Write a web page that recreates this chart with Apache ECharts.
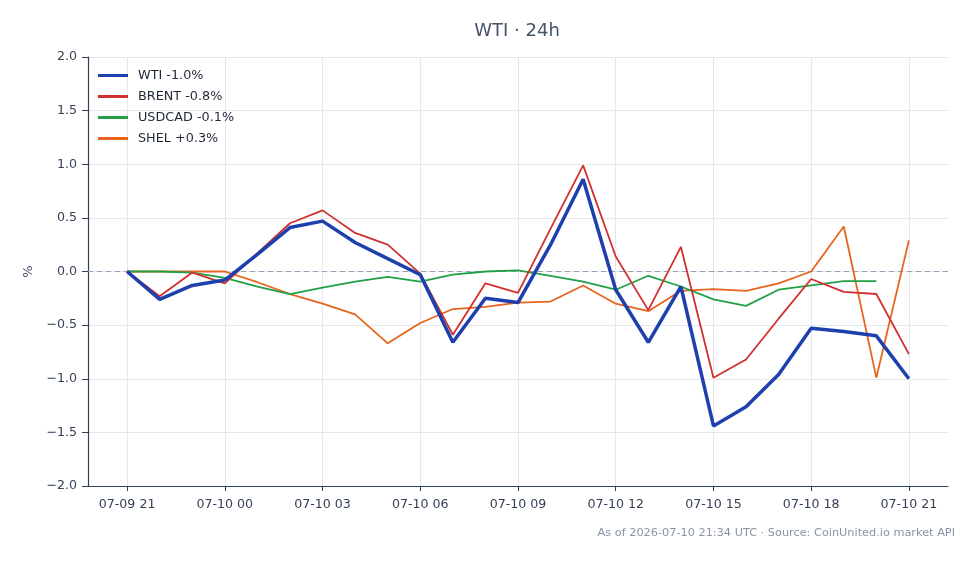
<!DOCTYPE html>
<html>
<head>
<meta charset="utf-8">
<title>WTI 24h</title>
<script src="https://cdn.jsdelivr.net/npm/echarts@6/dist/echarts.min.js"></script>
<style>
    html, body { margin: 0; padding: 0; background: #ffffff; }
    #chart { width: 979px; height: 564px; }
</style>
</head>
<body>
<div id="chart"></div>
<script>
"use strict";

// 时间轴（每小时一个点）
var hours = ['07-09 21', '07-09 22', '07-09 23', '07-10 00', '07-10 01', '07-10 02', '07-10 03',
    '07-10 04', '07-10 05', '07-10 06', '07-10 07', '07-10 08', '07-10 09', '07-10 10',
    '07-10 11', '07-10 12', '07-10 13', '07-10 14', '07-10 15', '07-10 16', '07-10 17',
    '07-10 18', '07-10 19', '07-10 20', '07-10 21'];

// 刻度（每3小时）
var tickIndex = [0, 3, 6, 9, 12, 15, 18, 21, 24];

var wti = [0, -0.26, -0.13, -0.08, 0.16, 0.41, 0.47, 0.27, 0.12, -0.03, -0.66, -0.25, -0.29,
    0.25, 0.86, -0.17, -0.66, -0.14, -1.44, -1.26, -0.96, -0.53, -0.56, -0.60, -1.00];
var brent = [0, -0.23, -0.01, -0.11, 0.17, 0.45, 0.57, 0.36, 0.25, -0.02, -0.59, -0.11, -0.20,
    0.40, 0.99, 0.14, -0.36, 0.23, -0.99, -0.82, -0.44, -0.07, -0.19, -0.21, -0.77];
var usdcad = [0, 0.0, -0.01, -0.06, -0.14, -0.21, -0.15, -0.095, -0.05, -0.095, -0.03, 0.0, 0.01,
    -0.04, -0.095, -0.17, -0.04, -0.14, -0.26, -0.32, -0.17, -0.13, -0.09, -0.09, null];
var shel = [0, 0.0, 0.0, 0.0, -0.10, -0.21, -0.30, -0.40, -0.67, -0.48, -0.35, -0.33, -0.29,
    -0.28, -0.13, -0.30, -0.37, -0.18, -0.165, -0.18, -0.11, 0.0, 0.42, -0.99, 0.29];

var seriesNames = ['WTI -1.0%', 'BRENT -0.8%', 'USDCAD -0.1%', 'SHEL +0.3%'];
var seriesColors = ['#1e40af', '#d03030', '#22a045', '#e8641e'];

(function (win) {

    var fontFamily = '"DejaVu Sans", sans-serif';

    /** 转成 [序号, 值] */
    function toPairs(arr) {
        var out = [];
        for (var i = 0, len = arr.length; i < len; i++) {
            out.push([i, arr[i]]);
        }
        return out;
    }

    var allData = [wti, brent, usdcad, shel];
    var widths = [3.5, 1.8, 1.8, 1.8];
    var series = [];
    for (var k = 0; k < allData.length; k++) {
        series.push({
            name: seriesNames[k],
            type: 'line',
            data: toPairs(allData[k]),
            showSymbol: false,
            symbol: 'none',
            connectNulls: false,
            z: 10 - k,
            lineStyle: { width: widths[k], color: seriesColors[k] },
            itemStyle: { color: seriesColors[k] },
            emphasis: { disabled: true }
        });
    }
    // 0 基准线
    series[0].markLine = {
        silent: true,
        symbol: 'none',
        label: { show: false },
        lineStyle: { color: '#94a3b8', type: [5, 4], width: 1 },
        data: [{ yAxis: 0 }],
        z: 1
    };

    var chart = echarts.init(document.getElementById('chart'), null, { renderer: 'canvas' });
    var option = {
        animation: false,
        backgroundColor: '#ffffff',
        textStyle: { fontFamily: fontFamily },
        legend: {
            orient: 'vertical',
            left: 98,
            top: 69,
            padding: 0,
            icon: 'rect',
            itemWidth: 30,
            itemHeight: 3,
            itemGap: 8,
            data: seriesNames,
            selectedMode: false,
            textStyle: { fontFamily: fontFamily, fontSize: 12.8, color: '#1f2937', padding: [0, 0, 0, 5] }
        },
        grid: { left: 88, right: 31, top: 57, bottom: 78 },
        xAxis: {
            type: 'value',
            min: -1.2,
            max: 25.2,
            axisLine: { show: true, onZero: false, lineStyle: { color: '#334155', width: 1.2 } },
            axisTick: {
                show: true,
                length: 5,
                lineStyle: { color: '#334155' },
                customValues: tickIndex
            },
            axisLabel: {
                customValues: tickIndex,
                margin: 12,
                fontSize: 12.6,
                color: '#334155',
                fontFamily: fontFamily,
                formatter: function (v) { return hours[Math.round(v)]; }
            },
            splitLine: { show: true, lineStyle: { color: '#e5e7eb', width: 1 } }
        },
        yAxis: {
            type: 'value',
            min: -2,
            max: 2,
            interval: 0.5,
            name: '%',
            nameLocation: 'middle',
            nameGap: 50,
            nameRotate: 90,
            nameTextStyle: { fontSize: 13, color: '#475569', fontFamily: fontFamily },
            axisLine: { show: true, onZero: false, lineStyle: { color: '#334155', width: 1.2 } },
            axisTick: { show: true, length: 6, lineStyle: { color: '#334155' } },
            axisLabel: {
                margin: 11,
                fontSize: 12.6,
                color: '#334155',
                fontFamily: fontFamily,
                formatter: function (v) {
                    var t = v.toFixed(1);
                    return v < 0 ? '\u2212' + t.slice(1) : t;
                }
            },
            splitLine: { show: true, lineStyle: { color: '#e5e7eb', width: 1 } }
        },
        graphic: [{
            type: 'text',
            x: 517,
            y: 31,
            style: {
                text: 'WTI · 24h',
                fontFamily: fontFamily,
                fontSize: 18,
                fill: '#475569',
                align: 'center',
                verticalAlign: 'middle'
            }
        }, {
            type: 'text',
            x: 955,
            y: 533,
            style: {
                text: 'As of 2026-07-10 21:34 UTC \u00b7 Source: CoinUnited.io market API',
                fontFamily: fontFamily,
                fontSize: 11.3,
                fill: '#8a94a6',
                align: 'right',
                verticalAlign: 'middle'
            }
        }],
        series: series
    };
    chart.setOption(option, true);

    win.addEventListener('resize', function () {
        chart.resize();
    });
})(window);
</script>
</body>
</html>
